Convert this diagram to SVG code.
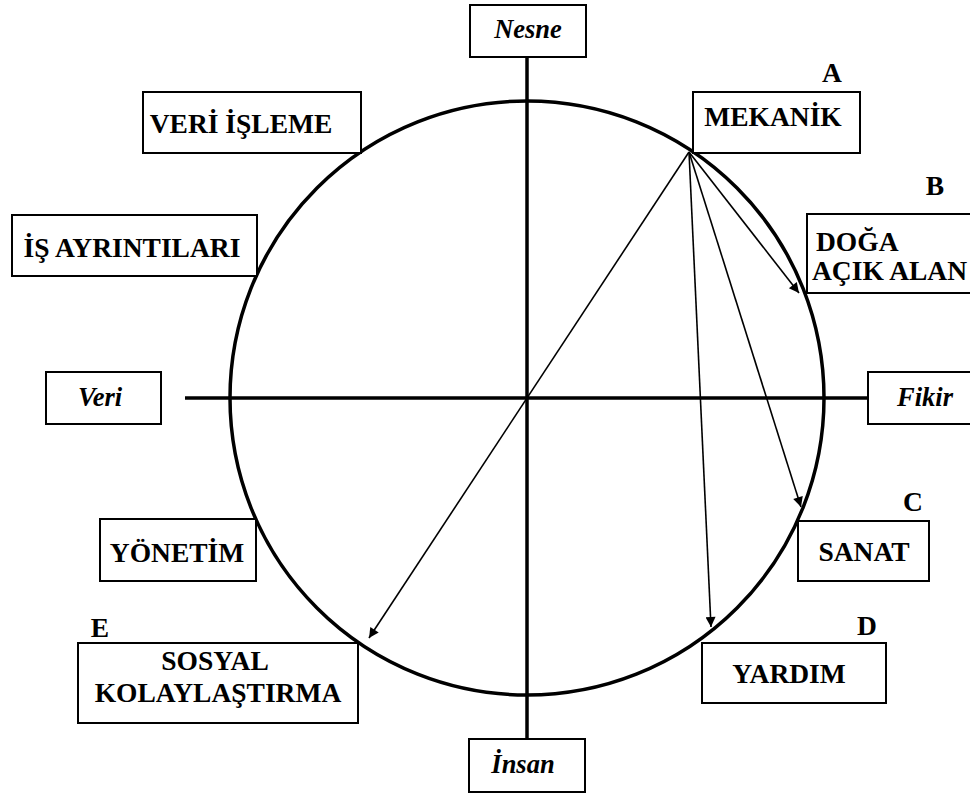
<svg xmlns="http://www.w3.org/2000/svg" width="970" height="793" viewBox="0 0 970 793">
<style>
.box{fill:#fff;stroke:#000;stroke-width:2}
text{font-family:"Liberation Serif","Times New Roman",serif;fill:#000}
.b{font-weight:bold;font-size:27.5px}
.i{font-weight:bold;font-style:italic;font-size:26.5px}
.m{text-anchor:middle}
.axis{stroke:#000;stroke-width:3.5;fill:none}
.arr{stroke:#000;stroke-width:1.6;fill:none;marker-end:url(#ah)}
</style>
<defs>
<marker id="ah" viewBox="0 0 10 10" refX="10" refY="5" markerWidth="16" markerHeight="10" markerUnits="userSpaceOnUse" orient="auto">
<path d="M0,0 L10,5 L0,10 Z" fill="#000"/>
</marker>
</defs>
<rect width="970" height="793" fill="#fff"/>
<g id="axes">
<circle cx="527" cy="398" r="297" class="axis" stroke-width="3"/>
<line x1="527" y1="57" x2="527" y2="739" class="axis"/>
<line x1="185" y1="398" x2="868" y2="398" class="axis"/>
</g>
<g id="connectors">
<line x1="689" y1="152" x2="799" y2="293" class="arr"/>
<line x1="689" y1="152" x2="801" y2="507" class="arr"/>
<line x1="689" y1="152" x2="711" y2="627" class="arr"/>
<line x1="689" y1="152" x2="369" y2="638" class="arr"/>
</g>
<g id="nesne"><rect x="470" y="5" width="116" height="52" class="box"/><text x="528" y="38" class="i m">Nesne</text></g>
<g id="insan"><rect x="469" y="739" width="116" height="53" class="box"/><text x="523" y="773" class="i m">İnsan</text></g>
<g id="veri"><rect x="46" y="372" width="115" height="52" class="box"/><text x="100" y="406" class="i m">Veri</text></g>
<g id="fikir"><rect x="868" y="372" width="110" height="52" class="box"/><text x="925" y="406" class="i m">Fikir</text></g>
<g id="veri-isleme"><rect x="143" y="92" width="218" height="61" class="box"/><text x="241" y="133" class="b m">VERİ İŞLEME</text></g>
<g id="is-ayrintilari"><rect x="12" y="215" width="245" height="61" class="box"/><text x="132" y="257" class="b m">İŞ AYRINTILARI</text></g>
<g id="mekanik"><text x="832" y="82" class="b m">A</text><rect x="693" y="92" width="167" height="61" class="box"/><text x="773" y="126" class="b m">MEKANİK</text></g>
<g id="doga"><text x="935" y="195" class="b m">B</text><rect x="807" y="214" width="170" height="79" class="box"/><text x="816" y="251" class="b">DOĞA</text><text x="812" y="280" class="b">AÇIK ALAN</text></g>
<g id="sanat"><text x="913" y="511" class="b m">C</text><rect x="798" y="521" width="131" height="60" class="box"/><text x="864" y="561" class="b m">SANAT</text></g>
<g id="yardim"><text x="867" y="635" class="b m">D</text><rect x="702" y="643" width="184" height="60" class="box"/><text x="789" y="683" class="b m">YARDIM</text></g>
<g id="yonetim"><rect x="100" y="519" width="156" height="62" class="box"/><text x="177" y="562" class="b m">YÖNETİM</text></g>
<g id="sosyal"><text x="100" y="637" class="b m">E</text><rect x="78" y="643" width="280" height="80" class="box"/><text x="215" y="670" class="b m">SOSYAL</text><text x="218" y="702" class="b m">KOLAYLAŞTIRMA</text></g>
</svg>
